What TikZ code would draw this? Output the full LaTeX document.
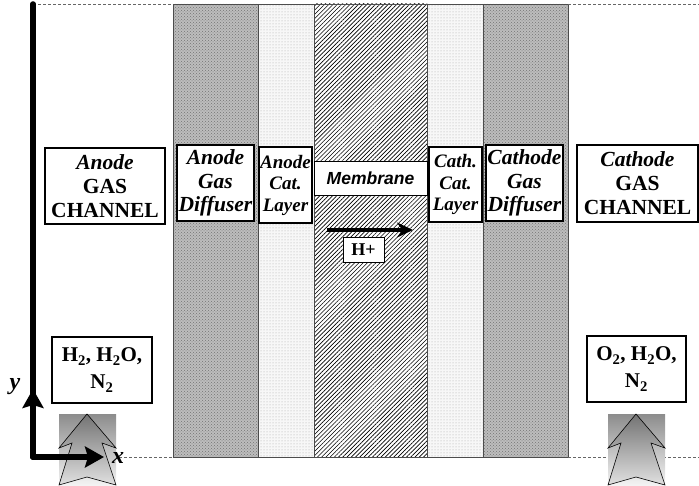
\documentclass[tikz,border=0pt]{standalone}
\usepackage{fontspec}
\setmainfont{Liberation Serif}
\newfontfamily\arialfont{Liberation Sans}
\usetikzlibrary{arrows.meta,patterns,patterns.meta}

\begin{document}
\begin{tikzpicture}[
  x=1pt,y=-1pt,
  layer/.style={draw=black!70,line width=0.8pt},
  guide/.style={densely dashed,draw=black!60,line width=0.6pt},
  lbl/.style={draw,line width=1.8pt,fill=white,align=center,inner sep=0pt,font=\bfseries\fontsize{21.5}{24}\selectfont},
  difflbl/.style={lbl,font=\bfseries\itshape\fontsize{21.5}{23.5}\selectfont},
  catlbl/.style={lbl,font=\bfseries\itshape\fontsize{19}{21.5}\selectfont},
  memlbl/.style={draw,line width=0.8pt,fill=white,inner sep=0pt,font=\arialfont\bfseries\itshape\fontsize{17.5}{20}\selectfont},
  specbox/.style={lbl,font=\bfseries\fontsize{21}{27}\selectfont},
  axis/.style={line width=5.5pt,line cap=round,line join=round},
  inflow/.style={draw=black,line width=0.6pt,top color=black!55,bottom color=black!12},
]
  \useasboundingbox (0,0) rectangle (699,486);

  % layers of the cell
  \filldraw[layer,fill=black!26] (173,4) rectangle (258,457);
  \fill[pattern=crosshatch dots,pattern color=black!55] (173,4) rectangle (258,457);
  \filldraw[layer,fill=black!3]  (258,4) rectangle (314,457);
  \fill[pattern=dots,pattern color=black!35] (258,4) rectangle (314,457);
  \filldraw[layer,fill=white]    (314,4) rectangle (427,457);
  \fill[pattern={Lines[angle=45,distance=3pt,line width=0.65pt]}] (314,4) rectangle (427,457);
  \filldraw[layer,fill=black!3]  (427,4) rectangle (483,457);
  \fill[pattern=dots,pattern color=black!35] (427,4) rectangle (483,457);
  \filldraw[layer,fill=black!26] (483,4) rectangle (568,457);
  \fill[pattern=crosshatch dots,pattern color=black!55] (483,4) rectangle (568,457);
  \foreach \xa/\xb in {173/258,258/314,314/427,427/483,483/568}
    \draw[layer] (\xa,4) rectangle (\xb,457);

  % channel edges
  \coordinate (atl) at (33,4);
  \coordinate (atr) at (173,4);
  \coordinate (ctl) at (568,4);
  \coordinate (ctr) at (699,4);
  \coordinate (abr) at (173,457);
  \coordinate (cbl) at (568,457);
  \coordinate (cbr) at (699,457);
  \coordinate (xtip) at (104,457);
  \draw[guide] (atl) -- (atr);
  \draw[guide] (ctl) -- (ctr);
  \draw[guide] (xtip) -- (abr);
  \draw[guide] (cbl) -- (cbr);

  % labels
  \node[lbl,minimum width=120,minimum height=76] (achan) at (105,186)
    {\textit{Anode}\\GAS\\CHANNEL};
  \node[difflbl,minimum width=77,minimum height=76] (adiff) at (215.5,183)
    {Anode\\Gas\\Diffuser};
  \node[catlbl,minimum width=53,minimum height=76] (acat) at (285.5,185)
    {Anode\\Cat.\\Layer};
  \node[memlbl,minimum width=113,minimum height=34] (mem) at (370.5,178) {Membrane};
  \node[catlbl,minimum width=53,minimum height=75] (ccat) at (455.5,184.5)
    {Cath.\\Cat.\\Layer};
  \node[difflbl,minimum width=77,minimum height=76] (cdiff) at (524.5,183)
    {Cathode\\Gas\\Diffuser};
  \node[lbl,minimum width=121,minimum height=77] (cchan) at (637.5,183.5)
    {\textit{Cathode}\\GAS\\CHANNEL};

  % proton flux
  \coordinate (hpa) at (327,230);
  \coordinate (hpb) at (413,230);
  \draw[line width=4.5pt,-{Stealth[length=16pt,width=15pt]}] (hpa) -- (hpb);
  \node[lbl,line width=0.8pt,font=\bfseries\fontsize{18}{20}\selectfont,minimum width=41,minimum height=25] (hplus) at (363.5,249.5) {H+};

  % species
  \node[specbox,minimum width=100,minimum height=66] (ain) at (102,370)
    {H\textsubscript{2}, H\textsubscript{2}O,\\N\textsubscript{2}};
  \node[specbox,minimum width=99,minimum height=66] (cin) at (636.5,369)
    {O\textsubscript{2}, H\textsubscript{2}O,\\N\textsubscript{2}};

  % inflow arrows
  \shade[top color=black!45,bottom color=black!4] (59,414) rectangle (116,486);
  \draw[inflow] (87,414) -- (116,448) -- (102,443) -- (116,485) -- (87,477)
    -- (59,485) -- (72,443) -- (59,448) -- cycle;
  \shade[top color=black!45,bottom color=black!4] (608,414) rectangle (665,486);
  \draw[inflow] (636,414) -- (665,448) -- (651,443) -- (665,485) -- (636,477)
    -- (608,485) -- (621,443) -- (608,448) -- cycle;

  % axes
  \coordinate (org) at (33,457);
  \coordinate (ytip) at (33,389);
  \draw[axis] (org) -- (atl);
  \draw[axis,-{Stealth[length=19pt,width=21pt,inset=3pt]}] (org) -- (ytip);
  \draw[axis,-{Stealth[length=19pt,width=21pt,inset=3pt]}] (org) -- (xtip);
  \node[font=\bfseries\itshape\fontsize{24}{26}\selectfont] (ylab) at (15,387) {y};
  \node[font=\bfseries\itshape\fontsize{24}{26}\selectfont] (xlab) at (118,458) {x};
\end{tikzpicture}
\end{document}
